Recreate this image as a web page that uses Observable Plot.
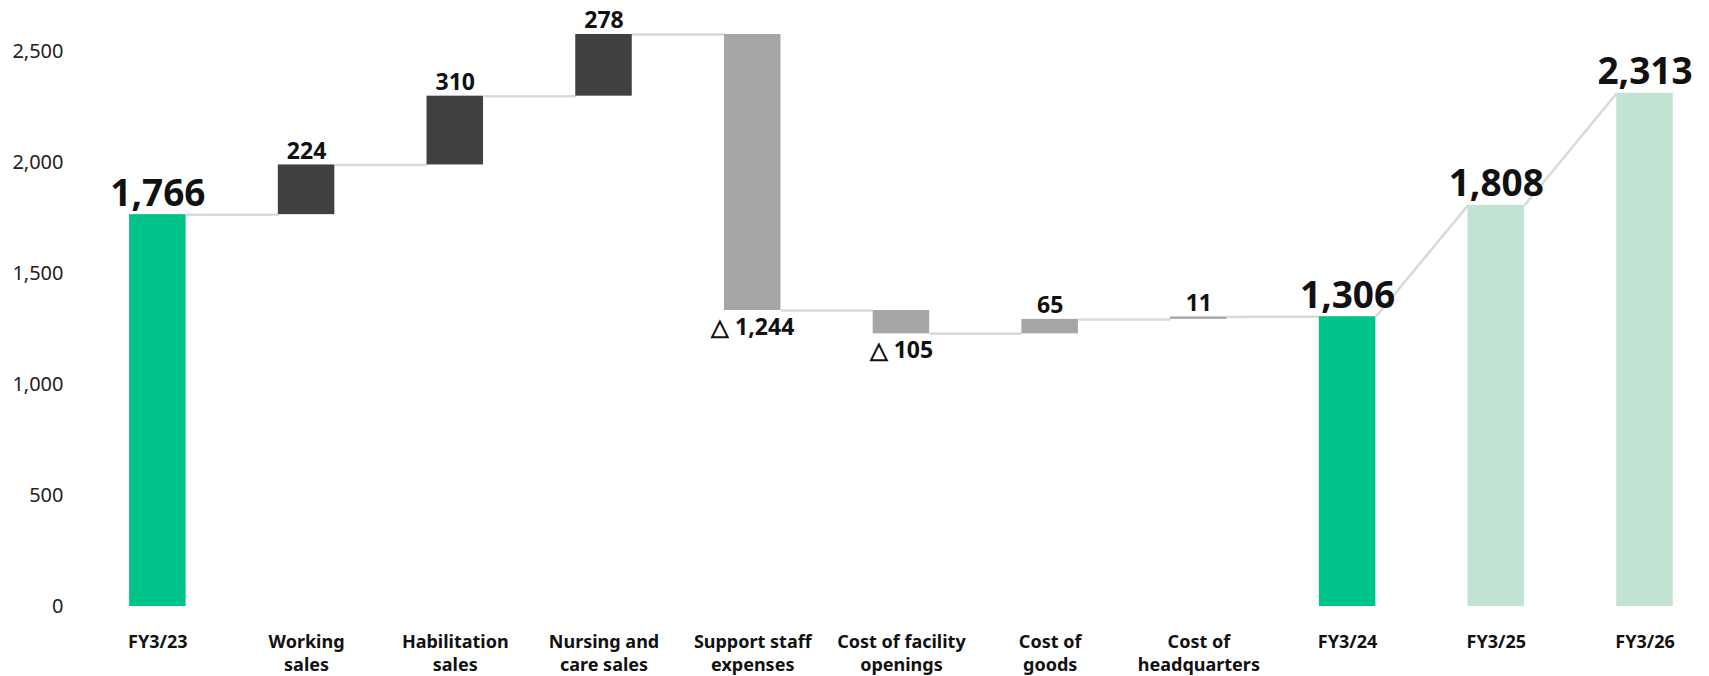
<!DOCTYPE html>
<html>
<head>
<meta charset="utf-8">
<script src="https://cdn.jsdelivr.net/npm/d3@7"></script>
<script src="https://cdn.jsdelivr.net/npm/@observablehq/plot@0.6"></script>
<style>
  html, body { margin: 0; padding: 0; background: #fff; overflow: hidden; }
  #chart svg { display: block; }
</style>
</head>
<body>
<div id="chart"></div>
<script>
// ---- data ----
const categories = [
  "FY3/23", "Working\nsales", "Habilitation\nsales", "Nursing and\ncare sales",
  "Support staff\nexpenses", "Cost of facility\nopenings", "Cost of\ngoods",
  "Cost of\nheadquarters", "FY3/24", "FY3/25", "FY3/26"
];
const values = [1766, 224, 310, 278, -1244, -105, 65, 11, 1306, 1808, 2313];
const groups = ["actual", "sales", "sales", "sales", "cost", "cost", "cost", "cost", "actual", "forecast", "forecast"];
const yTicks = [0, 500, 1000, 1500, 2000, 2500];

const groupColors = {
  actual: "#00c389",
  sales: "#404040",
  cost: "#a6a6a6",
  forecast: "#c2e3d1"
};
const isTotal = g => g === "actual" || g === "forecast";
const half = 0.19;

// ---- build waterfall table ----
let level = 0;
const rows = categories.map((c, i) => {
  const v = values[i], g = groups[i];
  let lo, hi, end;
  if (isTotal(g)) { lo = 0; hi = v; end = v; }
  else { const start = level; end = level + v; lo = Math.min(start, end); hi = Math.max(start, end); }
  level = end;
  return {i, c, v, g, lo, hi, end, total: isTotal(g)};
});
const links = rows.slice(0, -1).map((r, k) => {
  const n = rows[k + 1];
  return {x1: r.i + half, x2: n.i - half, y1: r.end, y2: n.total ? n.v : r.end};
});
const fmt = d3.format(",");
const labels = rows.map(r => ({
  i: r.i,
  y: r.v < 0 ? r.lo : r.hi,
  neg: r.v < 0,
  big: r.total,
  text: r.v < 0 ? "△ " + fmt(-r.v) : fmt(r.v)
}));

const chart = Plot.plot({
  width: 1709,
  height: 676,
  marginLeft: 83,
  marginRight: 5,
  marginTop: 18,
  marginBottom: 70,
  style: {fontFamily: "'Noto Sans', sans-serif", color: "#1a1a1a", background: "#fff"},
  x: {domain: [-0.5, 10.4], axis: null},
  y: {domain: [0, 2650], axis: null},
  marks: [
    Plot.link(links, {x1: "x1", x2: "x2", y1: "y1", y2: "y2", stroke: "#d9d9d9", strokeWidth: 2.5}),
    Plot.rectY(rows, {
      x1: d => d.i - half, x2: d => d.i + half,
      y1: "lo", y2: "hi",
      fill: d => groupColors[d.g]
    }),
    Plot.axisY({ticks: yTicks, tickFormat: d => fmt(d), tickSize: 0, tickPadding: 20, label: null, fontSize: 20, fill: "#222"}),
    Plot.axisX({
      ticks: d3.range(categories.length),
      tickFormat: i => categories[i],
      tickSize: 0, tickPadding: 25, label: null,
      fontSize: 18, fontWeight: "bold", lineHeight: 1.28, fill: "#111"
    }),
    Plot.text(labels.filter(d => !d.neg && !d.big), {
      x: "i", y: "y", text: "text", lineAnchor: "bottom", dy: -6,
      fontSize: 23, fontWeight: "bold", fill: "#111"
    }),
    Plot.text(labels.filter(d => d.big), {
      x: "i", y: "y", text: "text", lineAnchor: "bottom", dy: -9,
      fontSize: 37, fontWeight: "bold", fill: "#111"
    }),
    Plot.text(labels.filter(d => d.neg), {
      x: "i", y: "y", text: "text", lineAnchor: "top", dy: 8,
      fontSize: 23, fontWeight: "bold", fill: "#111"
    })
  ]
});
document.getElementById("chart").append(chart);
</script>
</body>
</html>
